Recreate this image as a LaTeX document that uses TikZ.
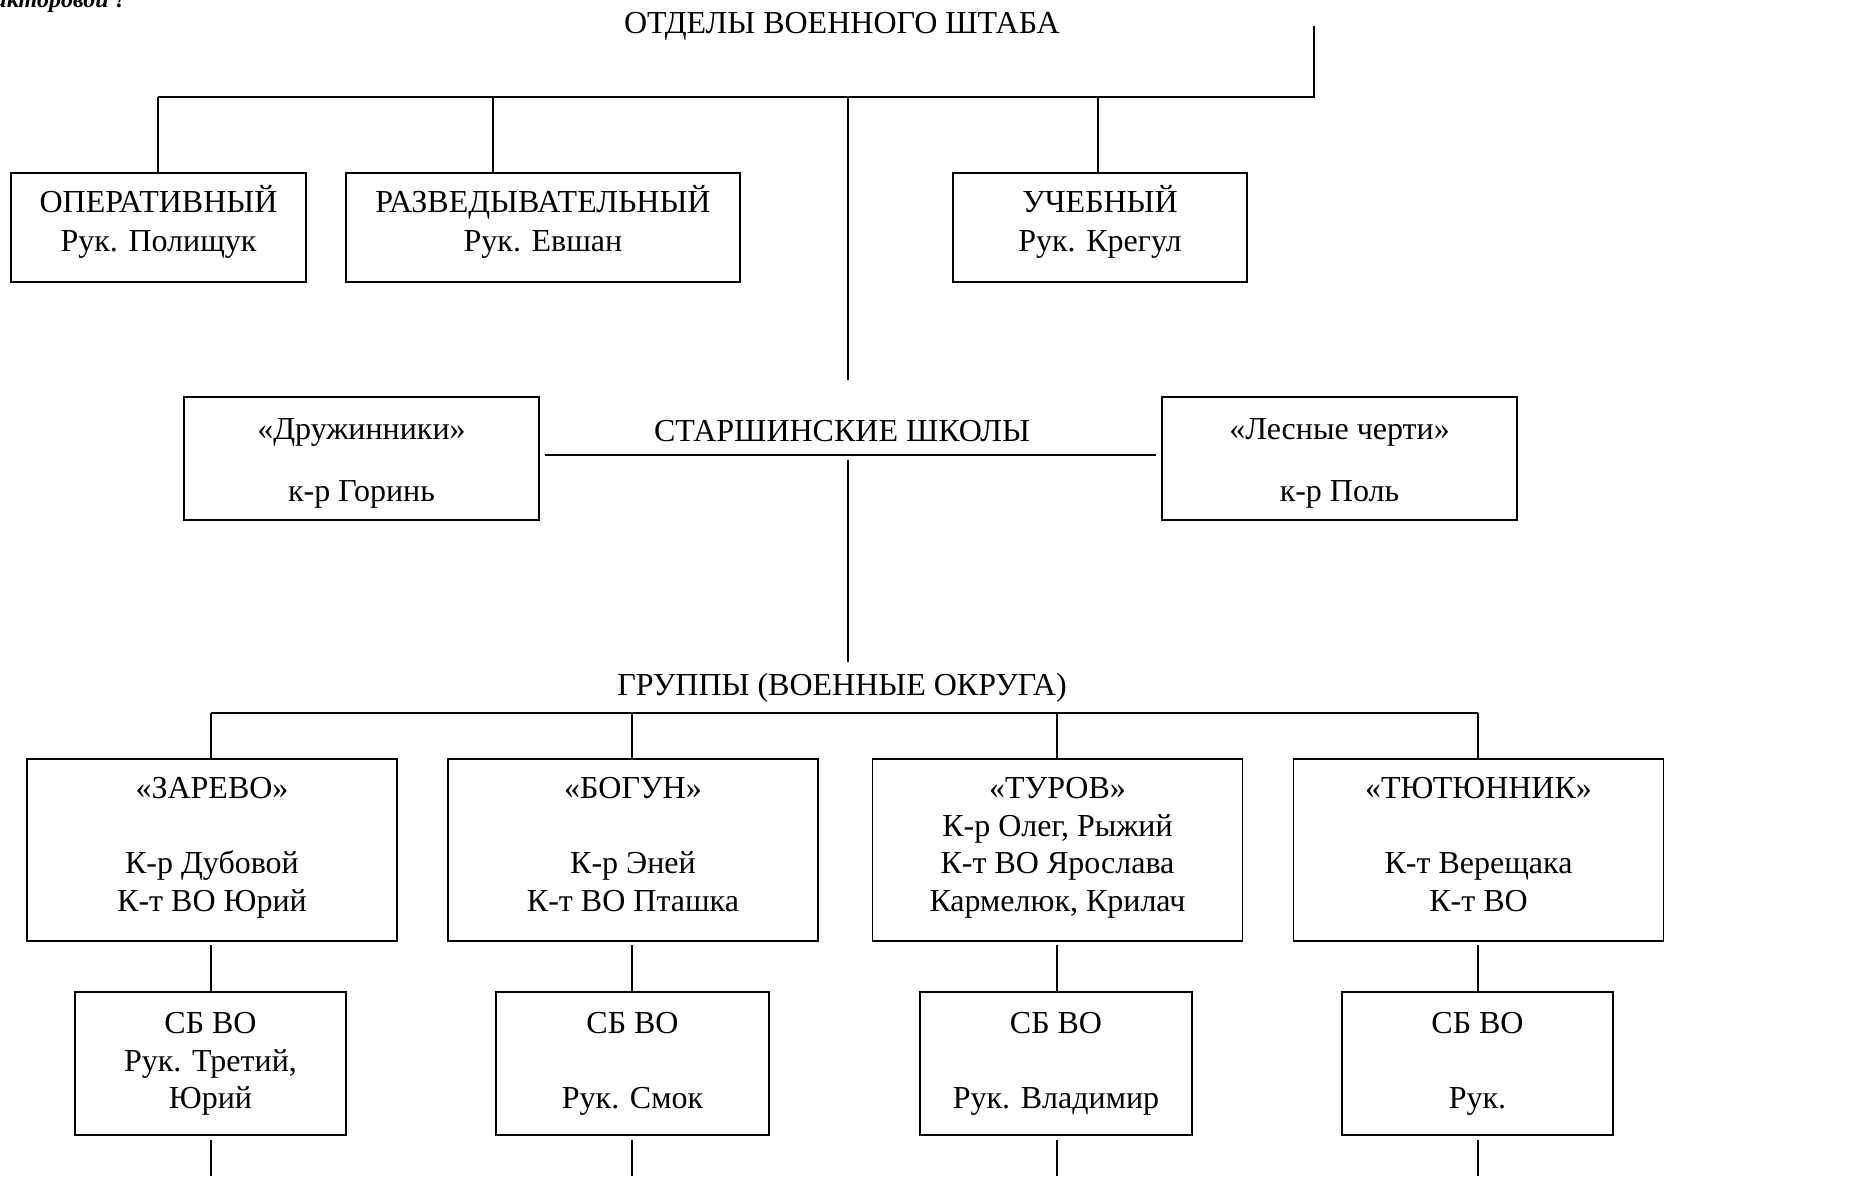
\documentclass[tikz,border=0pt]{standalone}
\usepackage{fontspec}
\setmainfont{Liberation Serif}
\newcommand{\lowerfirst}[1]{\rule{0pt}{#1}}
\begin{document}
\begin{tikzpicture}[x=1bp,y=-1bp,
  every node/.style={font=\fontsize{32bp}{37.5bp}\selectfont, align=center, inner sep=0pt},
  box/.style={draw, line width=1.6bp, execute at begin node=\strut, execute at end node=\strut},
  topbox/.style={box, minimum height=109bp, execute at end node=\rule[-17.25bp]{0pt}{0pt}},
  midbox/.style={box, minimum width=355bp, minimum height=123bp},
  grpbox/.style={box, minimum width=370bp, minimum height=182bp},
  sbbox/.style={box, minimum height=143bp},
  conn/.style={line width=1.6bp}
]
\useasboundingbox (0,0) rectangle (1860,1176);
\clip (0,0) rectangle (1860,1176);

% cropped note at the top left
\node[anchor=base east, font=\fontsize{24bp}{28bp}\selectfont\bfseries\itshape] (note) at (127,7) {икторовой ?};

% level 1
\node (t1) at (842,26) {ОТДЕЛЫ ВОЕННОГО ШТАБА};
\coordinate (rT) at (1314,26);
\coordinate (bR) at (1314,97);
\coordinate (b1) at (158,97);
\coordinate (b2) at (493,97);
\coordinate (b3) at (848,97);
\coordinate (b4) at (1098,97);
\coordinate (c1) at (848,380);

\node[topbox, minimum width=295bp] (op)  at (158.5,227.5) {ОПЕРАТИВНЫЙ\\[1.5bp]Рук. Полищук};
\node[topbox, minimum width=394bp] (raz) at (543,227.5)   {РАЗВЕДЫВАТЕЛЬНЫЙ\\[1.5bp]Рук. Евшан};
\node[topbox, minimum width=294bp] (uch) at (1100,227.5)  {УЧЕБНЫЙ\\[1.5bp]Рук. Крегул};

\draw[conn] (rT) -- (bR) -- (b1);
\draw[conn] (b1) -- (b1 |- op.north);
\draw[conn] (b2) -- (b2 |- raz.north);
\draw[conn] (b4) -- (b4 |- uch.north);
\draw[conn] (b3) -- (c1);

% level 2
\node (t2) at (842,431) {СТАРШИНСКИЕ ШКОЛЫ};
\node[midbox] (dr) at (361.5,458.5) {\lowerfirst{35bp}«Дружинники»\\[24.5bp]к-р Горинь};
\node[midbox] (ls) at (1339.5,458.5) {\lowerfirst{35bp}«Лесные черти»\\[24.5bp]к-р Поль};
\draw[conn] ([xshift=5bp,yshift=3.5bp]dr.east) -- ([xshift=-5bp,yshift=3.5bp]ls.west);
\coordinate (v1) at (848,460);
\coordinate (v2) at (848,662);
\draw[conn] (v1) -- (v2);

% level 3
\node (t3) at (842,688) {ГРУППЫ (ВОЕННЫЕ ОКРУГА)};
\coordinate (g1t) at (211,713);
\coordinate (g4t) at (1478,713);
\draw[conn] (g1t) -- (g4t);

\node[grpbox] (g1) at (212,850)    {«ЗАРЕВО»\\[37.5bp]К-р Дубовой\\К-т ВО Юрий};
\node[grpbox] (g2) at (633,850)    {«БОГУН»\\[37.5bp]К-р Эней\\К-т ВО Пташка};
\node[grpbox] (g3) at (1057.5,850) {«ТУРОВ»\\К-р Олег, Рыжий\\К-т ВО Ярослава\\Кармелюк, Крилач};
\node[grpbox] (g4) at (1478.5,850) {«ТЮТЮННИК»\\[37.5bp]К-т Верещака\\К-т ВО};

\foreach \x/\g in {211/g1,632/g2,1057/g3,1478/g4}{
  \coordinate (d\g) at (\x,713);
  \draw[conn] (d\g) -- (d\g |- \g.north);
}

\node[sbbox, minimum width=271bp] (s1) at (210.5,1063.5) {\lowerfirst{27bp}СБ ВО\\Рук. Третий,\\Юрий};
\node[sbbox, minimum width=273bp] (s2) at (632.5,1063.5) {\lowerfirst{27bp}СБ ВО\\[37.5bp]Рук. Смок};
\node[sbbox, minimum width=272bp] (s3) at (1056,1063.5)  {\lowerfirst{27bp}СБ ВО\\[37.5bp]Рук. Владимир};
\node[sbbox, minimum width=271bp] (s4) at (1477.5,1063.5) {\lowerfirst{27bp}СБ ВО\\[37.5bp]Рук.};

\foreach \x/\g/\s in {211/g1/s1,632/g2/s2,1057/g3/s3,1478/g4/s4}{
  \coordinate (u\s) at (\x,945);
  \draw[conn] (u\s) -- (u\s |- \s.north);
  \coordinate (l\s) at (\x,1140);
  \coordinate (e\s) at (\x,1176);
  \draw[conn] (l\s) -- (e\s);
}
\end{tikzpicture}
\end{document}
